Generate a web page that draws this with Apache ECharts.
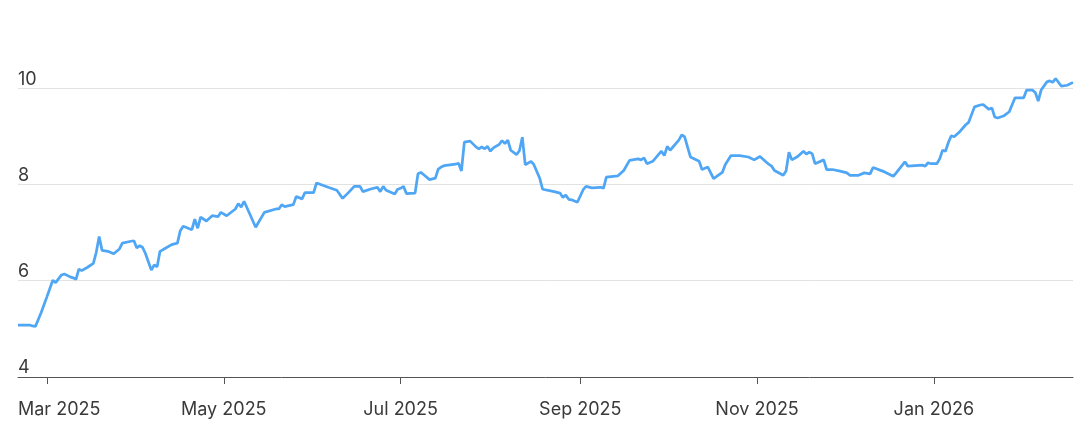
<!DOCTYPE html>
<html>
<head>
<meta charset="utf-8">
<script src="https://cdn.jsdelivr.net/npm/echarts@6/dist/echarts.min.js"></script>
<style>
html,body{margin:0;padding:0;background:#fff;}
#chart{width:1092px;height:438px;}
</style>
</head>
<body>
<div id="chart"></div>
<script>
// Dates (trading-day vertices)
var dates = [
 '2025-02-19','2025-02-23','2025-02-24','2025-02-25','2025-02-27','2025-03-01','2025-03-03','2025-03-04','2025-03-06','2025-03-07',
 '2025-03-09','2025-03-10','2025-03-11','2025-03-12','2025-03-13','2025-03-15','2025-03-17','2025-03-18','2025-03-19','2025-03-20',
 '2025-03-22','2025-03-24','2025-03-26','2025-03-27','2025-03-30','2025-03-31','2025-04-01','2025-04-02','2025-04-03','2025-04-04',
 '2025-04-06','2025-04-07','2025-04-08','2025-04-09','2025-04-11','2025-04-13','2025-04-15','2025-04-16','2025-04-17','2025-04-20',
 '2025-04-21','2025-04-22','2025-04-23','2025-04-25','2025-04-27','2025-04-29','2025-04-30','2025-05-02','2025-05-05','2025-05-06',
 '2025-05-07','2025-05-08','2025-05-12','2025-05-15','2025-05-19','2025-05-20','2025-05-21','2025-05-22','2025-05-25','2025-05-26',
 '2025-05-28','2025-05-29','2025-06-01','2025-06-02','2025-06-06','2025-06-09','2025-06-11','2025-06-13','2025-06-15','2025-06-17',
 '2025-06-18','2025-06-21','2025-06-23','2025-06-24','2025-06-25','2025-06-26','2025-06-29','2025-06-30','2025-07-01','2025-07-02',
 '2025-07-03','2025-07-06','2025-07-07','2025-07-08','2025-07-09','2025-07-11','2025-07-13','2025-07-14','2025-07-15','2025-07-16',
 '2025-07-20','2025-07-21','2025-07-22','2025-07-23','2025-07-25','2025-07-27','2025-07-28','2025-07-29','2025-07-30','2025-07-31',
 '2025-08-01','2025-08-02','2025-08-04','2025-08-05','2025-08-06','2025-08-07','2025-08-08','2025-08-10','2025-08-11','2025-08-12',
 '2025-08-13','2025-08-15','2025-08-16','2025-08-18','2025-08-19','2025-08-23','2025-08-25','2025-08-26','2025-08-27','2025-08-28',
 '2025-08-29','2025-08-31','2025-09-02','2025-09-03','2025-09-05','2025-09-08','2025-09-09','2025-09-10','2025-09-14','2025-09-16',
 '2025-09-18','2025-09-21','2025-09-22','2025-09-23','2025-09-24','2025-09-26','2025-09-29','2025-09-30','2025-10-01','2025-10-02',
 '2025-10-05','2025-10-06','2025-10-07','2025-10-09','2025-10-12','2025-10-13','2025-10-15','2025-10-17','2025-10-20','2025-10-21',
 '2025-10-23','2025-10-26','2025-10-29','2025-10-31','2025-11-02','2025-11-05','2025-11-06','2025-11-07','2025-11-10','2025-11-11',
 '2025-11-12','2025-11-13','2025-11-15','2025-11-17','2025-11-18','2025-11-19','2025-11-20','2025-11-21','2025-11-24','2025-11-25',
 '2025-11-27','2025-11-30','2025-12-02','2025-12-03','2025-12-06','2025-12-08','2025-12-10','2025-12-11','2025-12-15','2025-12-18',
 '2025-12-19','2025-12-22','2025-12-23','2025-12-28','2025-12-29','2025-12-30','2025-12-31','2026-01-02','2026-01-03','2026-01-04',
 '2026-01-05','2026-01-06','2026-01-07','2026-01-08','2026-01-10','2026-01-12','2026-01-13','2026-01-14','2026-01-15','2026-01-17',
 '2026-01-18','2026-01-20','2026-01-21','2026-01-22','2026-01-23','2026-01-25','2026-01-27','2026-01-29','2026-02-01','2026-02-02',
 '2026-02-04','2026-02-05','2026-02-06','2026-02-07','2026-02-09','2026-02-10','2026-02-11','2026-02-12','2026-02-14','2026-02-16',
 '2026-02-18'
];
var values = [
 5.08,5.08,5.06,5.05,5.34,5.67,6.01,5.96,6.12,6.14,
 6.08,6.06,6.03,6.24,6.21,6.28,6.36,6.59,6.92,6.63,
 6.61,6.56,6.66,6.78,6.82,6.83,6.68,6.73,6.69,6.56,
 6.22,6.33,6.29,6.61,6.68,6.75,6.78,7.04,7.13,7.06,
 7.28,7.09,7.32,7.24,7.35,7.33,7.42,7.35,7.49,7.60,
 7.53,7.65,7.11,7.42,7.49,7.49,7.58,7.54,7.58,7.75,
 7.70,7.83,7.83,8.03,7.94,7.88,7.71,7.83,7.96,7.96,
 7.85,7.91,7.94,7.85,7.96,7.88,7.80,7.90,7.92,7.96,
 7.81,7.82,8.22,8.25,8.20,8.10,8.13,8.32,8.36,8.39,
 8.42,8.44,8.28,8.88,8.90,8.78,8.74,8.78,8.74,8.79,
 8.69,8.76,8.83,8.91,8.85,8.92,8.71,8.62,8.70,8.98,
 8.41,8.48,8.41,8.13,7.90,7.85,7.82,7.73,7.78,7.69,
 7.68,7.63,7.89,7.96,7.93,7.94,7.92,8.15,8.18,8.29,
 8.50,8.53,8.51,8.55,8.43,8.48,8.69,8.60,8.79,8.71,
 8.92,9.03,8.99,8.57,8.48,8.31,8.36,8.12,8.25,8.41,
 8.60,8.60,8.57,8.51,8.58,8.42,8.38,8.29,8.19,8.28,
 8.67,8.51,8.58,8.69,8.63,8.67,8.64,8.43,8.51,8.31,
 8.31,8.27,8.24,8.19,8.19,8.24,8.22,8.35,8.26,8.17,
 8.24,8.47,8.38,8.40,8.38,8.45,8.43,8.43,8.53,8.71,
 8.69,8.87,9.01,8.99,9.10,9.24,9.29,9.45,9.61,9.65,
 9.66,9.56,9.59,9.40,9.38,9.42,9.51,9.80,9.80,9.96,
 9.96,9.91,9.73,9.96,10.13,10.15,10.12,10.20,10.04,10.06,
 10.12,10.24
];
// Axis tick labels
var xTickDates = ['2025-03-01','2025-05-01','2025-07-01','2025-09-01','2025-11-01','2026-01-01'];
var yTickValues = [4, 6, 8, 10];
var monthNames = ['Jan','Feb','Mar','Apr','May','Jun','Jul','Aug','Sep','Oct','Nov','Dec'];

function toTime(s) {
  var p = s.split('-');
  return Date.UTC(+p[0], +p[1] - 1, +p[2]);
}
function fmtDate(v) {
  var d = new Date(v);
  return monthNames[d.getUTCMonth()] + ' ' + d.getUTCFullYear();
}
var seriesData = dates.map(function (d, i) { return [toTime(d), values[i]]; });
var xTicks = xTickDates.map(toTime);

var FONT_SIZE = 18;
var font = 'Inter, "Noto Sans", "Liberation Sans", sans-serif';
var GRID_LEFT = 18, GRID_RIGHT = 19;

var chartEl = document.getElementById('chart');
var chart = echarts.init(chartEl, null, {renderer: 'canvas'});

// The first tick label is kept inside the plot's left edge (as in the reference):
// compute how much left padding its centred box needs so its text starts at the grid edge.
var xMin = toTime(dates[0]), xMax = toTime(dates[dates.length - 1]);
var plotW = 1092 - GRID_LEFT - GRID_RIGHT;
var firstTickPx = GRID_LEFT + (xTicks[0] - xMin) / (xMax - xMin) * plotW;
var ctx = document.createElement('canvas').getContext('2d');
ctx.font = FONT_SIZE + 'px ' + font;
var firstW = ctx.measureText(fmtDate(xTicks[0])).width;
var firstPad = Math.max(0, 2 * (GRID_LEFT + firstW / 2 - firstTickPx));

chart.setOption({
  animation: false,
  backgroundColor: '#ffffff',
  grid: {left: GRID_LEFT, right: GRID_RIGHT, top: 40, bottom: 61, containLabel: false, outerBoundsMode: 'none'},
  xAxis: {
    type: 'value',
    min: xMin,
    max: xMax,
    axisLine: {show: true, lineStyle: {color: '#555555', width: 1}},
    axisTick: {show: true, length: 7, customValues: xTicks, lineStyle: {color: '#555555', width: 1}},
    axisLabel: {
      customValues: xTicks,
      margin: 24,
      fontSize: FONT_SIZE,
      fontFamily: font,
      color: '#3a3a3a',
      hideOverlap: false,
      showMinLabel: true,
      showMaxLabel: true,
      formatter: function (v) {
        if (v === xTicks[0]) return '{first|' + fmtDate(v) + '}';
        return fmtDate(v);
      },
      rich: {
        first: {
          fontSize: FONT_SIZE,
          fontFamily: font,
          color: '#3a3a3a',
          padding: [0, 0, 0, firstPad]
        }
      }
    },
    splitLine: {show: false}
  },
  yAxis: {
    type: 'value',
    min: 4,
    max: 11,
    axisLine: {show: false},
    axisTick: {show: false, customValues: yTickValues},
    axisLabel: {
      customValues: yTickValues,
      inside: true,
      margin: 0,
      align: 'left',
      verticalAlign: 'bottom',
      fontSize: FONT_SIZE,
      fontFamily: font,
      color: '#3a3a3a',
      formatter: function (v) { return String(v); }
    },
    splitLine: {show: true, lineStyle: {color: '#e2e2e2', width: 1}}
  },
  series: [{
    type: 'line',
    data: seriesData,
    showSymbol: false,
    symbol: 'none',
    lineStyle: {color: '#4fa6f5', width: 2.75},
    itemStyle: {color: '#4fa6f5'}
  }]
});
</script>
</body>
</html>
